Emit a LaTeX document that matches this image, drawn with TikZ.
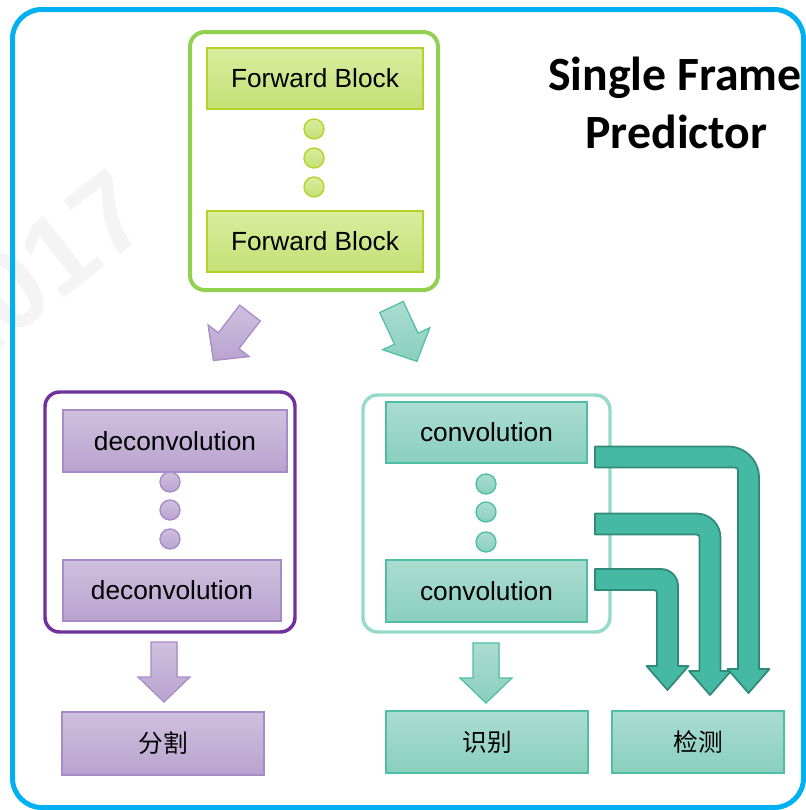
\documentclass[tikz,border=0pt]{standalone}
\usepackage{fontspec}
\setmainfont{Liberation Sans}
\newfontfamily\titlefont{Carlito}
\newfontfamily\cjk{Noto Sans CJK SC}
\usepackage{tikz}
\usetikzlibrary{calc}

\definecolor{frameblue}{RGB}{0,176,240}
\definecolor{fwdline}{RGB}{146,208,80}
\definecolor{fwdtop}{RGB}{217,237,158}
\definecolor{fwdbot}{RGB}{196,224,118}
\definecolor{fwdedge}{RGB}{180,210,40}
\definecolor{decline}{RGB}{112,48,160}
\definecolor{dectop}{RGB}{207,192,222}
\definecolor{decbot}{RGB}{185,163,207}
\definecolor{decedge}{RGB}{168,138,200}
\definecolor{conline}{RGB}{150,218,202}
\definecolor{contop}{RGB}{170,221,209}
\definecolor{conbot}{RGB}{138,207,190}
\definecolor{conedge}{RGB}{78,190,165}
\definecolor{bentfill}{RGB}{70,185,165}
\definecolor{bentedge}{RGB}{48,138,120}
\definecolor{markgray}{RGB}{244,244,244}

\tikzset{>=latex,
  boxfont/.style={font=\fontsize{19.7}{24}\selectfont},
  fwdblock/.style={rectangle, draw=fwdedge, line width=1.2pt, top color=fwdtop, bottom color=fwdbot, boxfont},
  fwddot/.style={circle, draw=fwdedge, line width=1pt, top color=fwdtop, bottom color=fwdbot, minimum size=15pt, inner sep=0pt},
  fwdframe/.style={draw=fwdline, line width=3pt, rounded corners=11pt},
  decblock/.style={rectangle, draw=decedge, line width=1pt, top color=dectop, bottom color=decbot, boxfont},
  decdot/.style={circle, draw=decedge, line width=1pt, top color=dectop, bottom color=decbot, minimum size=15pt, inner sep=0pt},
  decframe/.style={draw=decline, line width=2.6pt, rounded corners=11pt},
  conblock/.style={rectangle, draw=conedge, line width=1pt, top color=contop, bottom color=conbot, boxfont},
  condot/.style={circle, draw=conedge, line width=1pt, top color=contop, bottom color=conbot, minimum size=15pt, inner sep=0pt},
  conframe/.style={draw=conline, line width=2.6pt, rounded corners=11pt},
  taskfont/.style={font=\cjk\fontsize{18.5}{22}\selectfont},
  decarrow/.style={draw=decedge, line width=0.9pt, top color=dectop, bottom color=decbot},
  conarrow/.style={draw=conedge, line width=0.9pt, top color=contop, bottom color=conbot},
  bentarrow/.style={draw=bentedge, fill=bentfill, line width=1.3pt, line join=round}
}

% straight block arrow: style, tail point, direction
\newcommand{\blockarrow}[3]{%
  \filldraw[#1, shift={#2}, rotate=#3]
    (0,-13) -- (35,-13) -- (35,-26) -- (60,0) -- (35,26) -- (35,13) -- (0,13) -- cycle;}

\begin{document}
\begin{tikzpicture}[x=0.75pt, y=-0.75pt]
  \useasboundingbox (0,0) rectangle (806,810);
  \clip (0,0) rectangle (806,810);

  % watermark
  \node[rotate=38, text=markgray, font=\bfseries\fontsize{84}{84}\selectfont] (mark) at (35,272) {2017};

  % outer frame
  \draw[frameblue, line width=3.75pt, rounded corners=22pt] (12.5,9.5) rectangle (803.5,807.5);

  % title
  \node[anchor=base, font=\titlefont\bfseries\fontsize{35.8}{43}\selectfont] (title1) at (675,90) {Single Frame};
  \node[anchor=base, font=\titlefont\bfseries\fontsize{35.8}{43}\selectfont] (title2) at (676.5,148) {Predictor};

  % forward part
  \draw[fwdframe] (190,32) rectangle (438,290);
  \node[fwdblock, minimum width=162pt, minimum height=45.75pt] (fwd1) at (315,78.5) {Forward Block};
  \node[fwdblock, minimum width=162pt, minimum height=45.75pt] (fwd2) at (315,241.5) {Forward Block};
  \node[fwddot] (fdot1) at (314,129) {};
  \node[fwddot] (fdot2) at (314,158) {};
  \node[fwddot] (fdot3) at (314,187) {};

  % deconvolution part
  \draw[decframe] (45,392) rectangle (295,632);
  \node[decblock, minimum width=168pt, minimum height=46.5pt] (dec1) at (175,441) {deconvolution};
  \node[decblock, minimum width=163.5pt, minimum height=45.75pt] (dec2) at (172,590.5) {deconvolution};
  \node[decdot] (ddot1) at (170,482) {};
  \node[decdot] (ddot2) at (170,510) {};
  \node[decdot] (ddot3) at (170,539) {};

  % convolution part
  \draw[conframe] (363,395) rectangle (610,632);
  \node[conblock, minimum width=150.75pt, minimum height=45.75pt] (con1) at (486.5,432.5) {convolution};
  \node[conblock, minimum width=150.75pt, minimum height=46.5pt] (con2) at (486.5,591) {convolution};
  \node[condot] (cdot1) at (486,484) {};
  \node[condot] (cdot2) at (486,512) {};
  \node[condot] (cdot3) at (486,542) {};

  % tasks
  \node[decblock, minimum width=151.5pt, minimum height=47.25pt, taskfont] (seg) at (163,743.5) {分割};
  \node[conblock, minimum width=151.5pt, minimum height=46.5pt, taskfont] (rec) at (487,742) {识别};
  \node[conblock, minimum width=129pt, minimum height=46.5pt, taskfont] (det) at (698,742) {检测};

  % block arrows
  \blockarrow{decarrow}{(250,313)}{232.4}
  \blockarrow{conarrow}{(391.5,307)}{295}
  \blockarrow{decarrow}{(164,642)}{270}
  \blockarrow{conarrow}{(486,643)}{270}

  % bent arrows to detection
  \foreach \Y/\X/\B/\R in {579.5/667.5/666/17, 524/710/671/24, 457/748.5/669/31}{
    \filldraw[bentarrow] (595,\Y-10.5) -- (\X+10.5-\R,\Y-10.5)
      arc[start angle=90, end angle=0, radius=\R*0.75pt]
      -- (\X+10.5,\B) -- (\X+21,\B) -- (\X,\B+24) -- (\X-21,\B) -- (\X-10.5,\B)
      -- (\X-10.5,\Y+13.5) arc[start angle=0, end angle=90, radius=2.25pt]
      -- (595,\Y+10.5) -- cycle;
  }
\end{tikzpicture}
\end{document}
